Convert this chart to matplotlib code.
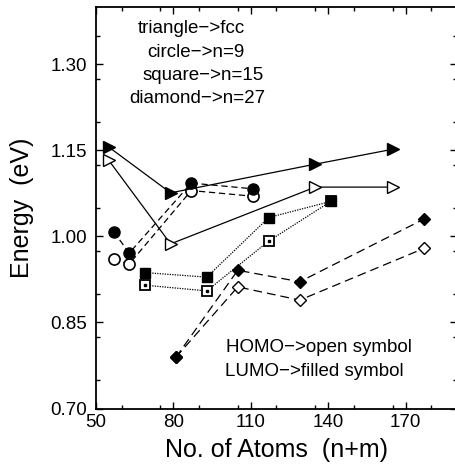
import matplotlib
matplotlib.use("Agg")
import matplotlib.pyplot as plt
from matplotlib.ticker import MultipleLocator

plt.rcParams['font.family'] = ['Liberation Sans', 'DejaVu Sans']

# Cluster sizes (n+m) and energies (eV); LUMO = filled, HOMO = open
tri_x = [55, 79, 135, 165]
tri_lumo = [1.156, 1.076, 1.126, 1.152]
tri_homo = [1.133, 0.987, 1.086, 1.086]

circ_x = [57, 63, 87, 111]
circ_lumo = [1.008, 0.971, 1.093, 1.083]
circ_homo = [0.960, 0.952, 1.080, 1.070]

sq_x = [69, 93, 117, 141]
sq_lumo = [0.937, 0.929, 1.033, 1.061]
sq_homo = [0.915, 0.905, 0.992, 1.061]

dia_x = [81, 105, 129, 177]
dia_lumo = [0.789, 0.941, 0.921, 1.030]
dia_homo = [0.789, 0.912, 0.889, 0.979]

x_ticks = [50, 80, 110, 140, 170]
y_ticks = [0.70, 0.85, 1.00, 1.15, 1.30]

W, H = 455, 466
fig = plt.figure(figsize=(W / 100, H / 100), dpi=100)
ax = fig.add_axes([95.7 / W, (H - 408.5) / H, (457.3 - 95.7) / W, (408.5 - 7) / H])

lw = 0.9
# fcc: solid lines, right-pointing triangles
ax.plot(tri_x, tri_homo, '-', color='k', lw=lw, marker='>', ms=8.5,
        mfc='white', mec='k', mew=1.0, zorder=3)
ax.plot(tri_x, tri_lumo, '-', color='k', lw=lw, marker='>', ms=8.5,
        mfc='k', mec='k', zorder=4)

# n=9: dashed lines, circles
ax.plot(circ_x, circ_homo, color='k', lw=lw, ls=(0, (5, 3)), marker='o', ms=8,
        mfc='white', mec='k', mew=1.2, zorder=3)
ax.plot(circ_x, circ_lumo, color='k', lw=lw, ls=(0, (5, 3)), marker='o', ms=8,
        mfc='k', mec='k', zorder=4)

# n=15: dotted lines, squares
ax.plot(sq_x, sq_homo, color='k', lw=lw, ls=(0, (1, 1)), marker='s', ms=7,
        mfc='white', mec='k', mew=1.3, zorder=3)
ax.plot(sq_x, sq_homo, ls='none', marker='s', ms=1.5, mfc='k', mec='k', zorder=3)
ax.plot(sq_x, sq_lumo, color='k', lw=lw, ls=(0, (1, 1)), marker='s', ms=7.5,
        mfc='k', mec='k', zorder=4)

# n=27: long-dashed lines, diamonds
ax.plot(dia_x, dia_homo, color='k', lw=lw, ls=(0, (7, 4)), marker='D', ms=6,
        mfc='white', mec='k', mew=1.0, zorder=3)
ax.plot(dia_x, dia_lumo, color='k', lw=lw, ls=(0, (7, 4)), marker='D', ms=6.5,
        mfc='k', mec='k', zorder=4)

ax.set_xlim(50, 190)
ax.set_ylim(0.70, 1.40)
ax.set_xticks(x_ticks)
ax.set_yticks(y_ticks)
ax.set_xticklabels([str(v) for v in x_ticks])
ax.set_yticklabels([f"{v:.2f}" for v in y_ticks])
ax.xaxis.set_minor_locator(MultipleLocator(15))
ax.yaxis.set_minor_locator(MultipleLocator(0.075))
ax.tick_params(which='both', direction='in', top=True, right=True,
               labelsize=13.5, width=1.0)
ax.tick_params(which='major', length=5)
ax.tick_params(which='minor', length=3)
ax.tick_params(axis='x', pad=4)
ax.tick_params(axis='y', pad=6)
for s in ax.spines.values():
    s.set_linewidth(1.3)

ax.set_xlabel("No. of Atoms  (n+m)", fontsize=18, labelpad=5)
ax.set_ylabel("Energy  (eV)", fontsize=18, labelpad=12)

fs = 13.5
ax.text(86.9, 1.363, "triangle\u2212>fcc", ha='center', va='center', fontsize=fs)
ax.text(88.8, 1.321, "circle\u2212>n=9", ha='center', va='center', fontsize=fs)
ax.text(91.5, 1.281, "square\u2212>n=15", ha='center', va='center', fontsize=fs)
ax.text(89.4, 1.241, "diamond\u2212>n=27", ha='center', va='center', fontsize=fs)
ax.text(136.6, 0.807, "HOMO\u2212>open symbol", ha='center', va='center', fontsize=fs)
ax.text(134.7, 0.764, "LUMO\u2212>filled symbol", ha='center', va='center', fontsize=fs)

fig.savefig("out.png", dpi=100)
